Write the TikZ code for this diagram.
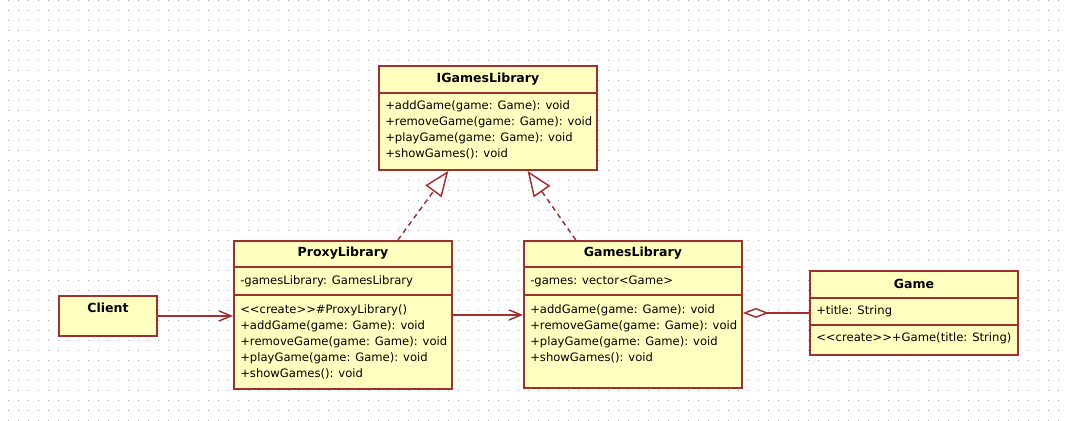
\documentclass[tikz,border=0pt]{standalone}
\usepackage{fontspec}
\usetikzlibrary{calc,arrows.meta}
\newfontfamily\umlfont{DejaVu Sans}
\definecolor{umlfill}{RGB}{255,255,192}
\definecolor{umlline}{RGB}{160,48,48}
\definecolor{griddot}{RGB}{165,165,165}
\tikzset{>={Straight Barb[length=9pt,width=7.5pt]},
  classbox/.style={draw=umlline, fill=umlfill, line width=1.4pt, inner sep=0pt},
  boxsize/.style 2 args={minimum width=#1*0.75pt, minimum height=#2*0.75pt},
  divider/.style={umlline, line width=1.3pt},
  classname/.style={font=\umlfont\bfseries\fontsize{9.4}{12.1}\selectfont, inner sep=0pt},
  members/.style={font=\umlfont\fontsize{8.7}{12.1}\selectfont, align=left, inner sep=0pt, anchor=north west},
  connector/.style={umlline, line width=1.1pt},
  realize/.style={connector, dash pattern=on 3.75pt off 3pt, -{Triangle[open, fill=white, length=19pt, width=15pt]}}
}

\begin{document}
\begin{tikzpicture}[x=0.75pt, y=-0.75pt]
    \useasboundingbox (0,0) rectangle (1067,421);
    % background grid
    \foreach \y in {0,10,...,420}
      \draw[griddot, line width=0.75pt, dash pattern=on 0.75pt off 6.75pt] (8,\y) -- (1067,\y);

    % class boxes
    \node[classbox, boxsize={218}{104}, anchor=north west] (iface) at (378,65) {};
    \node[classbox, boxsize={218}{148}, anchor=north west] (proxy) at (233,240) {};
    \node[classbox, boxsize={218}{147}, anchor=north west] (games) at (523,240) {};
    \node[classbox, boxsize={208}{84}, anchor=north west] (game) at (809,270) {};
    \node[classbox, boxsize={98}{40}, anchor=north west] (client) at (58,295) {};

    \draw[divider] ($(iface.north west)+(0,28)$) -- ($(iface.north east)+(0,28)$);
    \draw[divider] ($(proxy.north west)+(0,27)$) -- ($(proxy.north east)+(0,27)$);
    \draw[divider] ($(proxy.north west)+(0,55)$) -- ($(proxy.north east)+(0,55)$);
    \draw[divider] ($(games.north west)+(0,27)$) -- ($(games.north east)+(0,27)$);
    \draw[divider] ($(games.north west)+(0,55)$) -- ($(games.north east)+(0,55)$);
    \draw[divider] ($(game.north west)+(0,28)$) -- ($(game.north east)+(0,28)$);
    \draw[divider] ($(game.north west)+(0,55)$) -- ($(game.north east)+(0,55)$);

    % texts
    \node[classname] (iface-name) at ($(iface.north)+(0,14)$) {IGamesLibrary};
    \node[members] (iface-ops) at ($(iface.north west)+(7,35)$) {+addGame(game: Game): void\\+removeGame(game: Game): void\\+playGame(game: Game): void\\+showGames(): void};

    \node[classname] (proxy-name) at ($(proxy.north)+(0,13.5)$) {ProxyLibrary};
    \node[members, anchor=west] (proxy-attr) at ($(proxy.north west)+(7,41)$) {-gamesLibrary: GamesLibrary};
    \node[members] (proxy-ops) at ($(proxy.north west)+(7,64)$) {<{}<create>{}>\#ProxyLibrary()\\+addGame(game: Game): void\\+removeGame(game: Game): void\\+playGame(game: Game): void\\+showGames(): void};

    \node[classname] (games-name) at ($(games.north)+(0,13.5)$) {GamesLibrary};
    \node[members, anchor=west] (games-attr) at ($(games.north west)+(7,41)$) {-games: vector<Game>};
    \node[members] (games-ops) at ($(games.north west)+(7,64)$) {+addGame(game: Game): void\\+removeGame(game: Game): void\\+playGame(game: Game): void\\+showGames(): void};

    \node[classname] (game-name) at ($(game.north)+(0,14)$) {Game};
    \node[members, anchor=west] (game-attr) at ($(game.north west)+(7,41)$) {+title: String};
    \node[members, anchor=west] (game-ops) at ($(game.north west)+(7,68)$) {<{}<create>{}>+Game(title: String)};

    \node[classname] (client-name) at ($(client.north)+(0,13)$) {Client};

    % relations
    \coordinate (proxy-top) at ($(proxy.north west)!0.75!(proxy.north east)$);
    \coordinate (iface-left) at ($(iface.south west)!0.32!(iface.south east)$);
    \coordinate (games-top) at ($(games.north west)!0.24!(games.north east)$);
    \coordinate (iface-right) at ($(iface.south west)!0.68!(iface.south east)$);
    \draw[realize] (proxy-top) -- (iface-left);
    \draw[realize] (games-top) -- (iface-right);

    \draw[connector, ->] (client.east) -- (client.east -| proxy.west);
    \draw[connector, ->] (proxy.east) -- (proxy.east -| games.west);
    \draw[connector, -{Diamond[open, fill=white, length=19.5pt, width=7.5pt]}] (game.west) -- (game.west -| games.east);
\end{tikzpicture}
\end{document}
